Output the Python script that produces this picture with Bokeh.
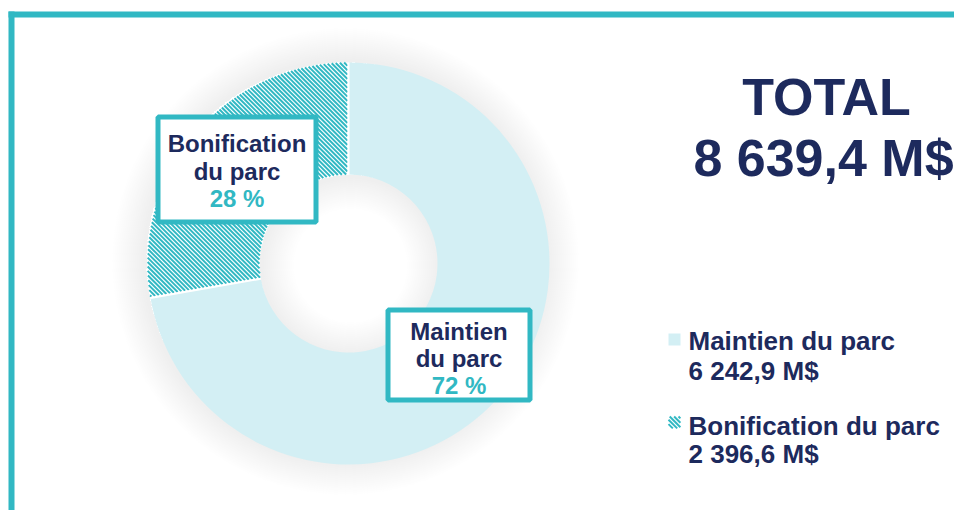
import numpy as np
from bokeh.plotting import figure
from bokeh.models import Range1d, ColumnDataSource
from bokeh.core.properties import value
from bokeh.embed import file_html
from bokeh.resources import INLINE

# ---- data ----
categories = ["Maintien du parc", "Bonification du parc"]
label_lines = [["Maintien", "du parc"], ["Bonification", "du parc"]]
amounts = [6242.9, 2396.6]          # M$
total_title = "TOTAL"
total_label = "8 639,4 M$"

# ---- styles ----
NAVY = "#1d2a5d"
TEAL = "#31b8c3"
LIGHT = "#d3eff4"
FONT = value("Liberation Sans")
STRIPE_STEP = 4.4
STRIPE_W = 1.95

W, H = 954, 510

def fr(v):
    return f"{v:,.1f}".replace(",", " ").replace(".", ",") + " M$"

vals = np.array(amounts)
share = vals / vals.sum()
pct = [f"{round(s * 100)} %" for s in share]

p = figure(width=W, height=H, output_backend="svg", toolbar_location=None,
           x_range=Range1d(0, W), y_range=Range1d(0, H), min_border=0,
           outline_line_color=None, background_fill_color="white")
p.xaxis.visible = False
p.yaxis.visible = False
p.grid.visible = False

# frame (teal border, top and left)
p.quad(left=[8], right=[W], top=[499], bottom=[493], fill_color=TEAL, line_color=None)
p.quad(left=[8], right=[14], top=[499], bottom=[0], fill_color=TEAL, line_color=None)

cx, cy = 348, 247
r_in, r_out = 89, 201

# soft shadow
for k in range(1, 17):
    p.annulus(x=[cx - 3], y=[cy + 2], inner_radius=r_out - 2, outer_radius=r_out + 2.0 * k,
              fill_color="#a2a2b2", fill_alpha=0.015, line_color=None)
    p.annulus(x=[cx + 2], y=[cy - 2], inner_radius=max(r_in - 2.0 * k, 1), outer_radius=r_in + 2,
              fill_color="#a2a2b2", fill_alpha=0.015, line_color=None)

# donut: Bonification goes counter-clockwise from 12 o'clock, then Maintien
order = [1, 0]
start = np.pi / 2
starts, ends = [], []
for i in order:
    starts.append(start)
    start = start + share[i] * 2 * np.pi
    ends.append(start)

src = ColumnDataSource(dict(
    x=[cx, cx], y=[cy, cy],
    start=starts, end=ends,
    fill=["white", LIGHT],
))
p.annular_wedge(x="x", y="y", inner_radius=r_in, outer_radius=r_out,
                start_angle="start", end_angle="end", direction="anticlock",
                fill_color="fill", line_color=None, source=src)


def stripes(inside, x0, x1, y0, y1, step=STRIPE_STEP, ds=0.15):
    """diagonal '\\' stripes (x + y = c) clipped to a region given by inside(x, y)"""
    xs_out, ys_out = [], []
    for c in np.arange(x0 + y0, x1 + y1 + step, step):
        xs = np.arange(x0, x1 + ds, ds)
        ys = c - xs
        m = inside(xs, ys)
        if not m.any():
            continue
        idx = np.flatnonzero(m)
        breaks = np.flatnonzero(np.diff(idx) > 1)
        seg_starts = np.r_[idx[0], idx[breaks + 1]]
        seg_ends = np.r_[idx[breaks], idx[-1]]
        for a, b in zip(seg_starts, seg_ends):
            if b > a:
                xs_out.append([xs[a], xs[b]])
                ys_out.append([ys[a], ys[b]])
    return xs_out, ys_out


a0, a1 = starts[0], ends[0]
gap = 1.0  # white separator at slice borders


def in_bonif(x, y):
    dx, dy = x - cx, y - cy
    r = np.hypot(dx, dy)
    ang = np.mod(np.arctan2(dy, dx), 2 * np.pi)
    d0 = np.abs(dx * np.sin(a0) - dy * np.cos(a0))
    d1 = np.abs(dx * np.sin(a1) - dy * np.cos(a1))
    return (r >= r_in) & (r <= r_out) & (ang >= a0) & (ang <= a1) & (d0 > gap) & (d1 > gap)


sx, sy = stripes(in_bonif, cx - r_out, cx + 2, cy - 60, cy + r_out)
p.multi_line(xs=sx, ys=sy, line_color=TEAL, line_width=STRIPE_W, line_cap="butt")

# white separators between slices
for ang in [a0, a1]:
    p.segment(x0=[cx + r_in * np.cos(ang)], y0=[cy + r_in * np.sin(ang)],
              x1=[cx + r_out * np.cos(ang)], y1=[cy + r_out * np.sin(ang)],
              line_color="white", line_width=2)

# label boxes
boxes = {1: (236.5, 341, 158, 105, [367, 339, 312]),
         0: (458.5, 155.5, 142, 90, [179, 152, 125])}
for i, (bx, by, bw, bh, ys) in boxes.items():
    p.rect(x=[bx], y=[by], width=bw, height=bh, fill_color="white",
           line_color=TEAL, line_width=5)
    texts = label_lines[i] + [pct[i]]
    colors = [NAVY, NAVY, TEAL]
    p.text(x=[bx] * 3, y=ys, text=texts, text_color=colors, text_font=FONT,
           text_font_size="24px", text_font_style="bold",
           text_align="center", text_baseline="middle")

# total
p.text(x=[826], y=[414], text=[total_title], text_color=NAVY,
       text_font=FONT, text_font_size="52px", text_font_style="bold",
       text_align="center", text_baseline="middle")
p.text(x=[823], y=[353], text=[total_label], text_color=NAVY,
       text_font=FONT, text_font_size="52px", text_font_style="bold",
       text_align="center", text_baseline="middle")

# legend
leg_y = [171, 88]
text_rows = [(170, 140), (85, 57)]
mx, ms = 674, 12
for j, i in enumerate([0, 1]):
    if i == 0:
        p.rect(x=[mx], y=[leg_y[j]], width=ms, height=ms, fill_color=LIGHT, line_color=None)
    else:
        my = leg_y[j]
        def in_sq(x, y, my=my):
            return (np.abs(x - mx) <= ms / 2) & (np.abs(y - my) <= ms / 2)
        lx, ly = stripes(in_sq, mx - ms / 2, mx + ms / 2, my - ms / 2, my + ms / 2, ds=0.1)
        p.multi_line(xs=lx, ys=ly, line_color=TEAL, line_width=STRIPE_W, line_cap="butt")
    p.text(x=[688, 688], y=list(text_rows[j]), text=[categories[i], fr(amounts[i])],
           text_color=NAVY, text_font=FONT, text_font_size="26px", text_font_style="bold",
           text_align="left", text_baseline="middle")

open("out.html", "w").write(file_html(p, INLINE))
